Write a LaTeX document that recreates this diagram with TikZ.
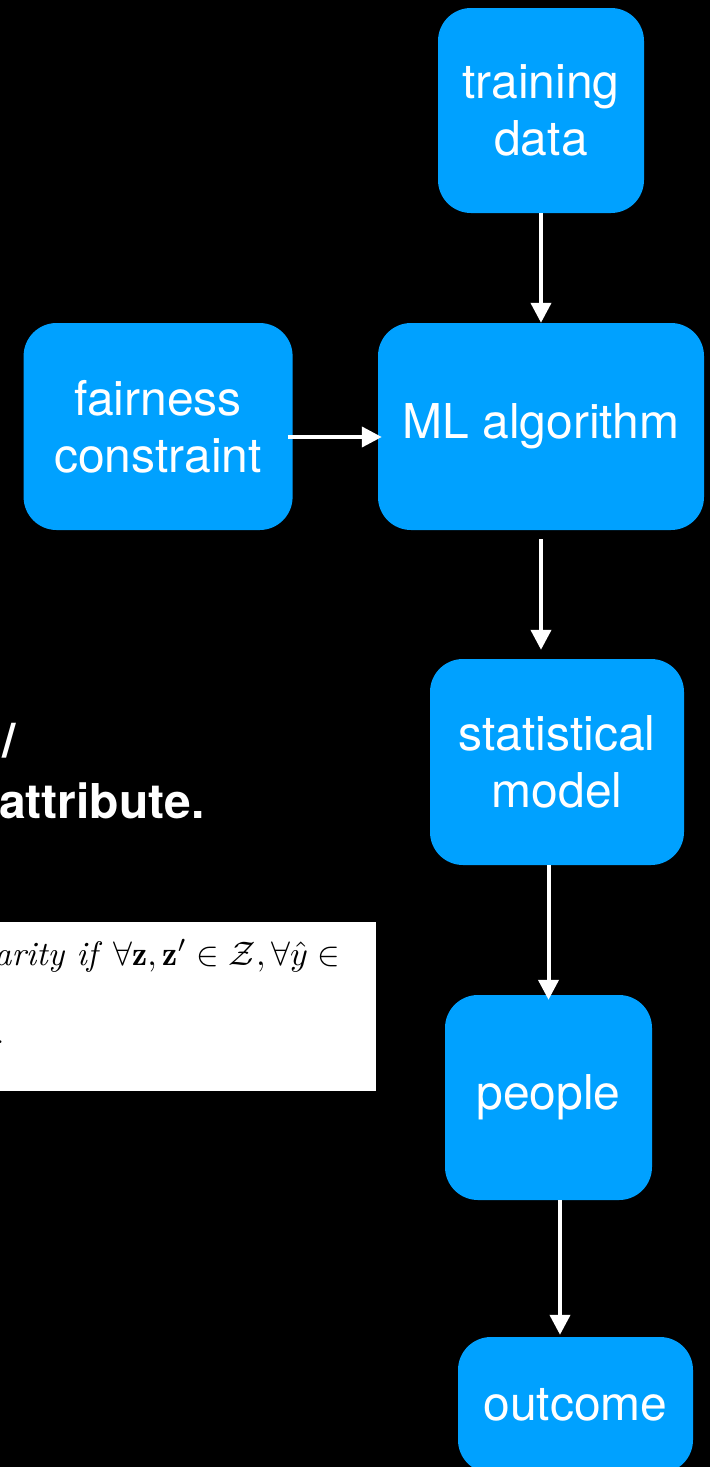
\documentclass[tikz,border=0pt]{standalone}
\usepackage{fontspec}
\usepackage{amsmath}
\usepackage{graphicx}
\usetikzlibrary{positioning,arrows.meta}
\newfontfamily\heros{TeX Gyre Heros}
\definecolor{keyblue}{RGB}{0,161,255}

\begin{document}
\begin{tikzpicture}
		[x=1pt,y=-1pt,
		stage/.style={rectangle,rounded corners=33pt,fill=keyblue,text=white,inner sep=0pt,align=center,font=\heros\fontsize{48}{57}\selectfont},
		link/.style={white,line width=4pt,-{Triangle[length=20pt,width=20pt]}},
		slide/.style={text=white,inner sep=0pt,font=\heros\bfseries\fontsize{48}{58}\selectfont}]
		\useasboundingbox (0,0) rectangle (710,1467);
		\fill[black] (0,0) rectangle (710,1467);

		\node [stage,minimum width=206pt,minimum height=205pt] (train) at (541,110.5) {training\\data};
		\node [stage,minimum width=326pt,minimum height=207pt] (ml) at (541,426.5) {ML algorithm};
		\node [stage,minimum width=269pt,minimum height=207pt] (fair) [left=85pt of ml] {fairness\\constraint};
		\node [stage,minimum width=254pt,minimum height=206pt] (stat) at (557,762) {statistical\\model};
		\node [stage,minimum width=207pt,minimum height=205pt] (people) at (548.5,1097.5) {people};
		\node [stage,minimum width=235pt,minimum height=136pt] (outcome) at (575.5,1405) {outcome};

		\draw [link] (train) -- (ml);
		\draw [link,shorten <=-5pt,shorten >=-4pt] ([yshift=-10.5pt]fair.east) -- ([yshift=-10.5pt]ml.west);
		\draw [link,shorten <=9pt,shorten >=9pt] (ml.south) -- (ml.south |- stat.north);
		\draw [link,shorten >=-5pt] (people.north |- stat.south) -- (people.north);
		\draw [link,shorten >=2pt] ([xshift=11.5pt]people.south) -- ([xshift=11.5pt]people.south |- outcome.north);

		\node [slide,anchor=base east] (slash) at (16,757) {/};
		\node [slide,anchor=base west] (attr) at (-1,818) {attribute.};

		\begin{scope}
			\clip (0,922) rectangle (376,1091);
			\fill [white] (0,922) rectangle (376,1091);
			\node [anchor=base west,inner sep=0pt] (parity) at (-6,965)
				{\scalebox{3.4}{\textit{arity if} $\forall\mathbf{z},\mathbf{z}'\in\mathcal{Z},\forall\hat{y}\in$}};
			\node [anchor=base west,inner sep=0pt,font=\fontsize{33}{40}\selectfont] (stop) at (-4,1043) {.};
		\end{scope}
	\end{tikzpicture}
\end{document}
